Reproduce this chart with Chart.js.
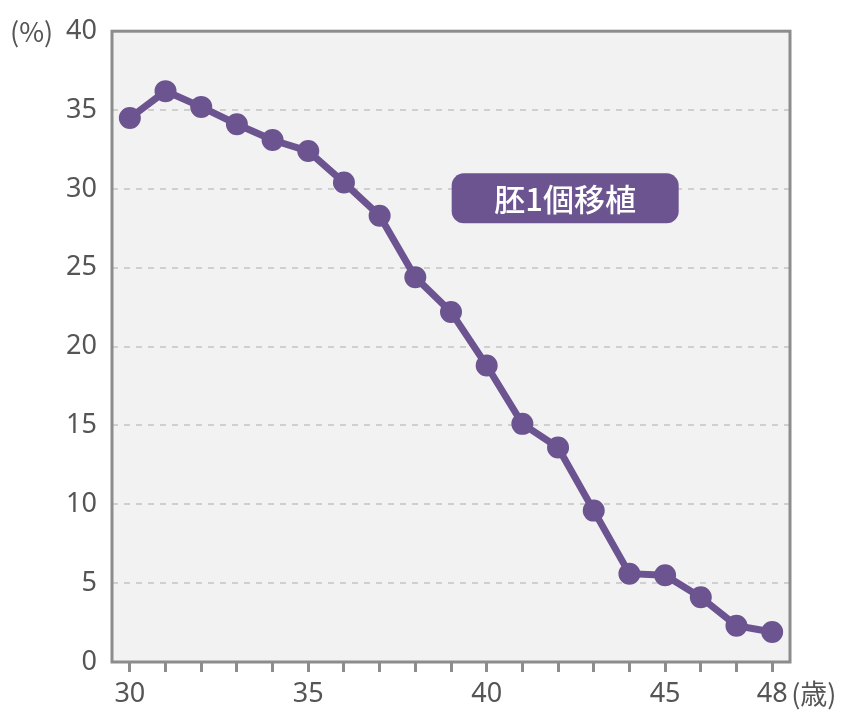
<!DOCTYPE html>
<html>
<head>
<meta charset="utf-8">
<script src="https://cdn.jsdelivr.net/npm/chart.js@4"></script>
<style>
  html, body { margin: 0; padding: 0; background: #fff; }
  #wrap { position: relative; width: 846px; height: 716px; }
</style>
</head>
<body>
<div id="wrap"><canvas id="c" width="846" height="716"></canvas></div>
<script>
var ages = ['30','31','32','33','34','35','36','37','38','39','40','41','42','43','44','45','46','47','48'];
var rates = [34.5, 36.2, 35.2, 34.1, 33.1, 32.4, 30.4, 28.3, 24.4, 22.2, 18.8, 15.1, 13.6, 9.6, 5.6, 5.5, 4.1, 2.3, 1.9];
var shownAges = ['30','35','40','45','48'];
var yTicks = [0, 5, 10, 15, 20, 25, 30, 35, 40];
var seriesLabel = '胚1個移植';

var PURPLE = '#6b5490';
var FONT = '"Noto Sans", "Noto Sans CJK JP", sans-serif';
var JPFONT = '"Noto Sans CJK JP", sans-serif';
var TEXT = '#555555';

// gray panel behind the plot, frame, unit labels and the series tag
var framePlugin = {
  id: 'frame',
  beforeDraw: function(chart) {
    var a = chart.chartArea, ctx = chart.ctx;
    ctx.save();
    ctx.fillStyle = '#f2f2f2';
    ctx.fillRect(a.left, a.top, a.right - a.left, a.bottom - a.top);
    ctx.restore();
  },
  beforeDatasetsDraw: function(chart) {
    var a = chart.chartArea, ctx = chart.ctx;
    ctx.save();
    ctx.strokeStyle = '#8c8c8c';
    ctx.lineWidth = 3;
    ctx.strokeRect(a.left, a.top, a.right - a.left, a.bottom - a.top);
    ctx.restore();
  },
  afterDraw: function(chart) {
    var ctx = chart.ctx, x = chart.scales.x, y = chart.scales.y;
    ctx.save();
    ctx.fillStyle = TEXT;
    ctx.font = '27px ' + JPFONT;
    ctx.textBaseline = 'middle';
    ctx.textAlign = 'left';
    ctx.fillText('(%)', 10, y.getPixelForValue(40) + 1);
    ctx.fillText('(歳)', x.getPixelForValue(18) + 19, 694);

    // series tag
    var cx = x.getPixelForValue(12.2), cy = y.getPixelForValue(29.4);
    var w = 227, h = 50, r = 12;
    ctx.fillStyle = PURPLE;
    ctx.beginPath();
    ctx.roundRect(cx - w / 2, cy - h / 2, w, h, r);
    ctx.fill();
    ctx.fillStyle = '#ffffff';
    ctx.font = '500 31px ' + JPFONT;
    ctx.textAlign = 'center';
    ctx.fillText(seriesLabel, cx, cy + 1);
    ctx.restore();
  }
};

new Chart(document.getElementById('c'), {
  type: 'line',
  data: {
    labels: ages,
    datasets: [{
      label: seriesLabel,
      data: rates,
      borderColor: PURPLE,
      backgroundColor: PURPLE,
      pointBackgroundColor: PURPLE,
      pointBorderColor: PURPLE,
      pointRadius: 7.5,
      borderWidth: 7,
      tension: 0
    }]
  },
  options: {
    responsive: false,
    animation: false,
    layout: { padding: { top: 27, right: 56, left: 0, bottom: 0 } },
    plugins: { legend: { display: false }, tooltip: { enabled: false } },
    scales: {
      x: {
        offset: true,
        border: { display: false },
        grid: { offset: false, drawOnChartArea: false, tickLength: 10, tickWidth: 3, tickColor: '#8c8c8c' },
        ticks: {
          autoSkip: false, maxRotation: 0, padding: 6,
          color: TEXT, font: { family: FONT, size: 27 },
          callback: function(v) { var l = ages[v]; return shownAges.indexOf(l) >= 0 ? l : ''; }
        },
        afterFit: function(s) { s.height = 54; }
      },
      y: {
        min: 0, max: 40,
        border: { display: false, dash: [6, 6] },
        afterBuildTicks: function(s) { s.ticks = yTicks.map(function(v) { return { value: v }; }); },
        grid: {
          drawTicks: false,
          lineWidth: 2,
          color: function(c) { return (c.tick && (c.tick.value === 0 || c.tick.value === 40)) ? 'rgba(0,0,0,0)' : '#cfcfcf'; }
        },
        ticks: { padding: 15, color: TEXT, font: { family: FONT, size: 27 } },
        afterFit: function(s) { s.width = 112; }
      }
    }
  },
  plugins: [framePlugin]
});
</script>
</body>
</html>
